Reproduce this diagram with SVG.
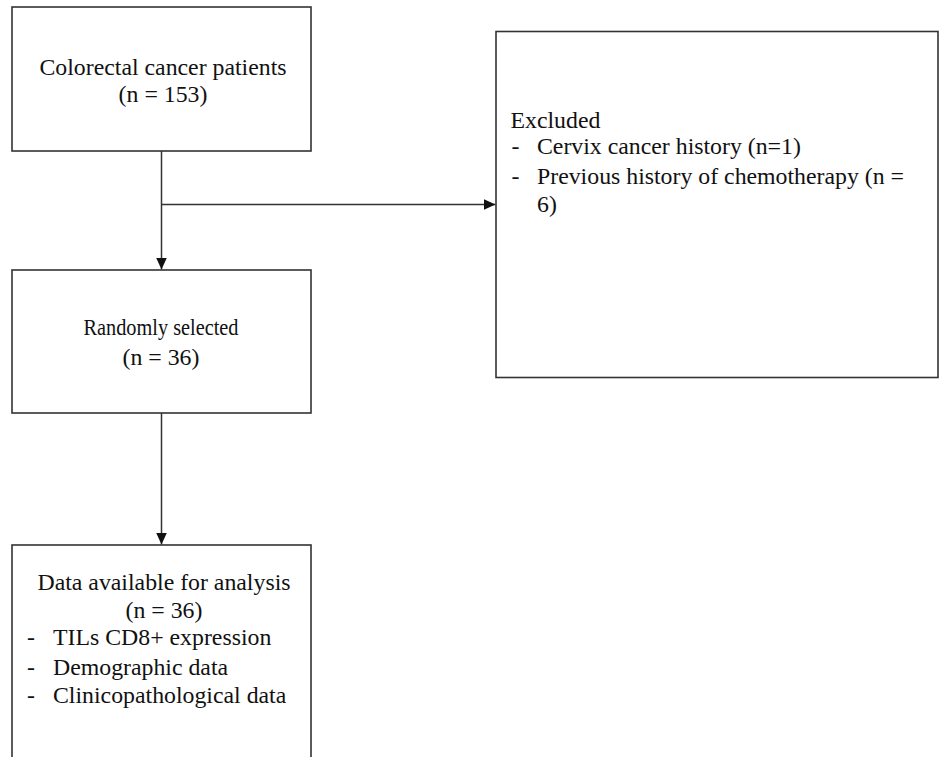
<svg xmlns="http://www.w3.org/2000/svg" width="943" height="757" viewBox="0 0 943 757">
<defs>
<style>
.box{fill:#fff;stroke:#333;stroke-width:1.6}
.t{font-family:"Liberation Serif","Times New Roman",serif;font-size:23.8px;fill:#111}
.c{text-anchor:middle}
.ln{stroke:#333;stroke-width:1.5;fill:none}
</style>
<marker id="ah" viewBox="0 0 12 12" refX="12" refY="6" markerWidth="12" markerHeight="12" markerUnits="userSpaceOnUse" orient="auto">
<path d="M0,0.5 L12,6 L0,11.5 Z" fill="#111"/>
</marker>
</defs>
<rect width="943" height="757" fill="#fff"/>
<g id="connectors">
<line class="ln" x1="161.5" y1="151" x2="161.5" y2="269.5" marker-end="url(#ah)"/>
<line class="ln" x1="161.5" y1="204.5" x2="495.5" y2="204.5" marker-end="url(#ah)"/>
<line class="ln" x1="161.5" y1="413" x2="161.5" y2="544.5" marker-end="url(#ah)"/>
</g>
<g id="n1">
<rect class="box" x="12" y="7" width="299" height="144"/>
<text class="t c" x="163" y="75">Colorectal cancer patients</text>
<text class="t c" x="163" y="102">(n = 153)</text>
</g>
<g id="n2">
<rect class="box" x="496" y="31.5" width="442" height="346"/>
<text class="t" x="510.5" y="128">Excluded</text>
<text class="t" x="511.5" y="154">-</text>
<text class="t" x="537" y="154">Cervix cancer history (n=1)</text>
<text class="t" x="511.5" y="184">-</text>
<text class="t" x="537" y="184">Previous history of chemotherapy (n =</text>
<text class="t" x="537" y="212">6)</text>
</g>
<g id="n3">
<rect class="box" x="12" y="270" width="299" height="143"/>
<text class="t c" x="161" y="335" textLength="155" lengthAdjust="spacingAndGlyphs">Randomly selected</text>
<text class="t c" x="161" y="365">(n = 36)</text>
</g>
<g id="n4">
<rect class="box" x="12" y="545" width="299" height="230"/>
<text class="t c" x="164" y="590">Data available for analysis</text>
<text class="t c" x="164" y="618">(n = 36)</text>
<text class="t" x="27" y="645">-</text>
<text class="t" x="53" y="645">TILs CD8+ expression</text>
<text class="t" x="27" y="675">-</text>
<text class="t" x="53" y="675">Demographic data</text>
<text class="t" x="27" y="703">-</text>
<text class="t" x="53" y="703">Clinicopathological data</text>
</g>
</svg>
